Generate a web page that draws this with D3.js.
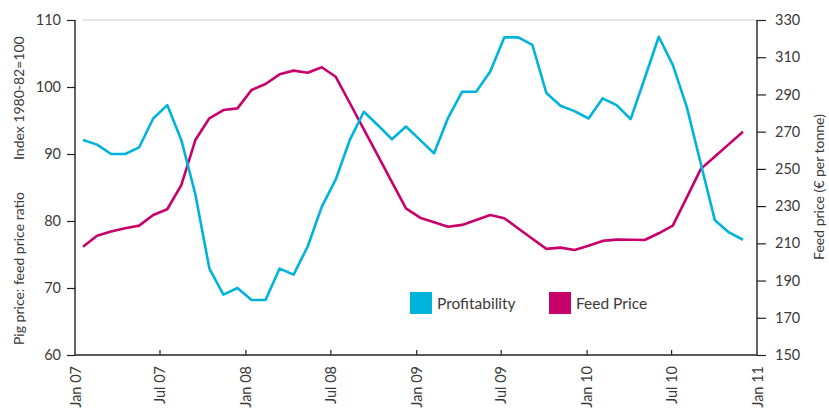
<!DOCTYPE html>
<html>
<head>
<meta charset="utf-8">
<script src="https://cdn.jsdelivr.net/npm/d3@7"></script>
<style>
  body { margin: 0; background: #fff; }
  text { font-family: Lato, "Open Sans", sans-serif; fill: #3a3a3a; }
</style>
</head>
<body>
<div id="chart"></div>
<script>
var svgWidth = 829;
var svgHeight = 411;

var margin = { top: 20, right: 72, bottom: 56, left: 75 };
var width = svgWidth - margin.left - margin.right;
var height = svgHeight - margin.top - margin.bottom;

// monthly points, Jan 07 .. Dec 10
var months = d3.timeMonth.range(new Date(2007, 0, 1), new Date(2011, 0, 1));

var profitability = [92.1, 91.4, 90.0, 90.0, 91.0, 95.3, 97.3, 92.1, 84.0, 72.9, 69.0, 70.0,
  68.2, 68.2, 72.9, 72.0, 76.2, 82.1, 86.2, 92.1, 96.3, 94.3, 92.2, 94.1,
  92.1, 90.1, 95.4, 99.3, 99.3, 102.3, 107.4, 107.4, 106.3, 99.1, 97.2, 96.4,
  95.3, 98.3, 97.3, 95.2, 101.3, 107.5, 103.3, 97.0, 88.5, 80.1, 78.3, 77.2];

var feedPrice = [208.2, 214.1, 216.3, 218.1, 219.5, 225.2, 228.3, 241.3, 265.5, 277.2, 281.6, 282.5,
  292.4, 295.6, 300.8, 302.8, 301.7, 304.6, 299.5, 285.4, 271.2, 257.1, 242.9, 228.8,
  223.8, 221.3, 218.9, 219.9, 222.5, 225.2, 223.5, 218.0, 212.5, 207.0, 207.7, 206.4,
  208.7, 211.3, 212.0, 211.9, 211.8, 215.4, 219.5, 234.7, 250.0, 256.7, 263.3, 270.0];

var xTickDates = [new Date(2007, 0, 1), new Date(2007, 6, 1), new Date(2008, 0, 1), new Date(2008, 6, 1),
  new Date(2009, 0, 1), new Date(2009, 6, 1), new Date(2010, 0, 1), new Date(2010, 6, 1), new Date(2011, 0, 1)];
var xTickLabels = ["Jan 07", "Jul 07", "Jan 08", "Jul 08", "Jan 09", "Jul 09", "Jan 10", "Jul 10", "Jan 11"];

var leftTicks = [60, 70, 80, 90, 100, 110];
var rightTicks = [150, 170, 190, 210, 230, 250, 270, 290, 310, 330];

var cyan = "#00b3dd";
var magenta = "#c8006b";

var svg = d3.select("#chart")
  .append("svg")
  .attr("width", svgWidth)
  .attr("height", svgHeight);

var chartGroup = svg.append("g")
  .attr("transform", `translate(${margin.left}, ${margin.top})`);

var xAxisScale = d3.scaleTime()
  .domain([xTickDates[0], xTickDates[xTickDates.length - 1]])
  .range([0, width]);

var xPoint = d3.scalePoint()
  .domain(months.map(d => +d))
  .range([8, 668]);

var yLeft = d3.scaleLinear().domain([60, 110]).range([height, 0]);
var yRight = d3.scaleLinear().domain([150, 330]).range([height, 0]);

// top grid line
chartGroup.append("line")
  .attr("x1", 8).attr("x2", width)
  .attr("y1", 0).attr("y2", 0)
  .attr("stroke", "#dcdcdc")
  .attr("stroke-width", 1.5);

// left axis
var leftAxis = chartGroup.append("g")
  .call(d3.axisLeft(yLeft).tickValues(leftTicks).tickSize(8).tickPadding(6).tickFormat(d3.format("d")));

// right axis
var rightAxis = chartGroup.append("g")
  .attr("transform", `translate(${width}, 0)`)
  .call(d3.axisRight(yRight).tickValues(rightTicks).tickSize(9).tickPadding(9).tickFormat(d3.format("d")));

// bottom axis
var xIdx = d3.scaleOrdinal().domain(xTickDates.map(d => +d)).range(xTickLabels);
var bottomAxis = chartGroup.append("g")
  .attr("transform", `translate(0, ${height})`)
  .call(d3.axisBottom(xAxisScale).tickValues(xTickDates).tickSize(-5).tickFormat(d => xIdx(+d)));

bottomAxis.selectAll("text")
  .attr("transform", "rotate(-90)")
  .attr("text-anchor", "end")
  .attr("x", -11)
  .attr("y", 0)
  .attr("dy", "0.36em");

svg.selectAll(".domain").attr("stroke", "#222").attr("stroke-width", 1.4);
svg.selectAll(".tick line").attr("stroke", "#222").attr("stroke-width", 1.2);
svg.selectAll(".tick text").style("font-size", "14.5px").style("fill", "#3a3a3a");

// remove the outer tick stubs on the domain paths
leftAxis.select(".domain").attr("d", `M0,0V${height}`);
rightAxis.select(".domain").attr("d", `M0,0V${height}`);
bottomAxis.select(".domain").attr("d", `M0,0H${width}`);
bottomAxis.selectAll(".tick").filter((d, i) => i === 0 || i === xTickDates.length - 1).select("line").remove();

// lines
var profitLine = d3.line()
  .x((d, i) => xPoint(+months[i]))
  .y(d => yLeft(d));

var feedLine = d3.line()
  .x((d, i) => xPoint(+months[i]))
  .y(d => yRight(d));

chartGroup.append("path")
  .datum(feedPrice)
  .attr("d", feedLine)
  .attr("fill", "none")
  .attr("stroke", magenta)
  .attr("stroke-width", 2.6)
  .attr("stroke-linejoin", "round");

chartGroup.append("path")
  .datum(profitability)
  .attr("d", profitLine)
  .attr("fill", "none")
  .attr("stroke", cyan)
  .attr("stroke-width", 2.6)
  .attr("stroke-linejoin", "round");

// axis titles
svg.append("text")
  .attr("transform", "translate(24, 345) rotate(-90)")
  .attr("text-anchor", "start")
  .style("font-size", "14px")
  .text("Pig price: feed price ratio");

svg.append("text")
  .attr("transform", "translate(24, 160) rotate(-90)")
  .attr("text-anchor", "start")
  .style("font-size", "14px")
  .text("Index 1980-82=100");

svg.append("text")
  .attr("transform", "translate(824, 187) rotate(-90)")
  .attr("text-anchor", "middle")
  .style("font-size", "14px")
  .text("Feed price (€ per tonne)");

// legend
var legend = svg.append("g");
var legendItems = [
  { name: "Profitability", color: cyan, x: 410 },
  { name: "Feed Price", color: magenta, x: 549 }
];
legendItems.forEach(function(item) {
  legend.append("rect")
    .attr("x", item.x)
    .attr("y", 292)
    .attr("width", 22)
    .attr("height", 22)
    .attr("fill", item.color);
  legend.append("text")
    .attr("x", item.x + 27)
    .attr("y", 309)
    .style("font-size", "15.5px")
    .text(item.name);
});
</script>
</body>
</html>
